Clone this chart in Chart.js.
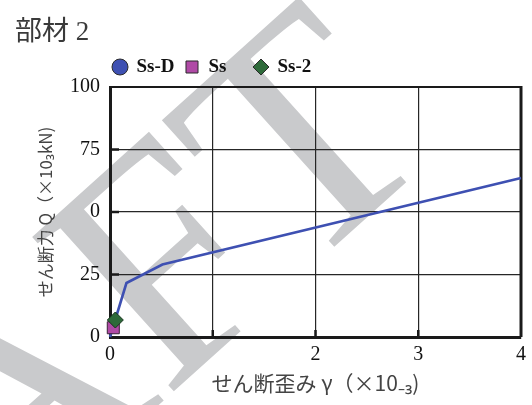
<!DOCTYPE html>
<html>
<head>
<meta charset="utf-8">
<script src="https://cdn.jsdelivr.net/npm/chart.js@4/dist/chart.umd.min.js"></script>
<style>
  html, body { margin: 0; padding: 0; background: #ffffff; }
  #wrap { width: 532px; height: 405px; }
</style>
</head>
<body>
<div id="wrap"><canvas id="c" width="532" height="405"></canvas></div>
<script>
// 部材 2 : せん断力 Q と せん断歪み γ の関係

// series names (legend order)
const seriesNames = ['Ss-D', 'Ss', 'Ss-2'];

// Ss-D skeleton curve (γ ×10^-3, Q ×10^3 kN)
const ssD_gamma = [0, 0.16, 0.51, 4.0];
const ssD_Q     = [0, 21.6, 29.0, 63.6];

// Ss response point
const ss_gamma = [0.032];
const ss_Q     = [3.7];

// Ss-2 response point
const ss2_gamma = [0.052];
const ss2_Q     = [6.8];

// axis ticks and the labels printed next to them
const xTicks    = [0, 1, 2, 3, 4];
const xTickText = ['0', '', '2', '3', '4'];
const yTicks    = [0, 25, 50, 75, 100];
const yTickText = ['0', '25', '0', '75', '100'];

const titleText  = '部材 2';
const xTitleText = 'せん断歪み γ（×10₋₃)';
const yTitleText = 'せん断力 Q（×10₃kN)';

const toPoints = (xs, ys) => xs.map((x, i) => ({ x: x, y: ys[i] }));

const BLUE = '#3e50b2';
const MAGENTA = '#b04aa6';
const GREEN = '#2e6a3a';
const SERIF = '"Liberation Serif", "Times New Roman", serif';
const MIXED = '"Liberation Serif", "Noto Sans CJK JP"';
const GOTHIC = '"Noto Sans CJK JP", "Noto Sans", sans-serif';

// large light-grey "DRAFT" stamp behind the chart
const draftStamp = {
  id: 'draftStamp',
  beforeDraw(chart) {
    const ctx = chart.ctx;
    ctx.save();
    ctx.translate(443, 149);
    ctx.rotate(-42 * Math.PI / 180);
    ctx.font = '320px ' + SERIF;
    ctx.fillStyle = '#c9cacc';
    ctx.textAlign = 'right';
    ctx.textBaseline = 'alphabetic';
    ctx.fillText('DRAFT', 0, 0);
    ctx.restore();
  }
};

// top / right frame and the short inward tick marks
const frameTicks = {
  id: 'frameTicks',
  beforeDatasetsDraw(chart) {
    const { ctx, chartArea: a, scales } = chart;
    ctx.save();
    ctx.strokeStyle = '#1a1a1a';
    ctx.lineWidth = 2;
    ctx.beginPath();
    ctx.moveTo(a.left, a.top); ctx.lineTo(a.right, a.top);
    ctx.stroke();
    ctx.lineWidth = 3;
    ctx.beginPath();
    ctx.moveTo(a.right, a.top - 1); ctx.lineTo(a.right, a.bottom);
    ctx.stroke();
    ctx.lineWidth = 2.5;
    yTicks.slice(1, -1).forEach(v => {
      const py = scales.y.getPixelForValue(v);
      ctx.beginPath(); ctx.moveTo(a.left, py); ctx.lineTo(a.left + 9, py); ctx.stroke();
    });
    xTicks.slice(1, -1).forEach(v => {
      const px = scales.x.getPixelForValue(v);
      ctx.beginPath(); ctx.moveTo(px, a.bottom); ctx.lineTo(px, a.bottom - 7); ctx.stroke();
    });
    ctx.restore();
  }
};

// legend row above the plot
const legendRow = {
  centers: [120, 192, 261],
  y: 67,
  radii: [8, 8.5, 8],
  gap: 16.5
};
const markerLegend = {
  id: 'markerLegend',
  afterDraw(chart) {
    const ctx = chart.ctx;
    ctx.save();
    chart.data.datasets.forEach((ds, i) => {
      const cx = legendRow.centers[i];
      ctx.fillStyle = ds.pointBackgroundColor;
      ctx.strokeStyle = '#2a2a2a';
      ctx.lineWidth = 1;
      Chart.helpers.drawPoint(ctx, {
        pointStyle: ds.pointStyle, radius: legendRow.radii[i], rotation: 0, borderWidth: 1
      }, cx, legendRow.y);
      ctx.fillStyle = '#111111';
      ctx.font = '600 19px ' + SERIF;
      ctx.textAlign = 'left';
      ctx.textBaseline = 'middle';
      ctx.fillText(ds.label, cx + legendRow.gap, legendRow.y + 0.5);
    });
    ctx.restore();
  }
};

new Chart(document.getElementById('c'), {
  type: 'scatter',
  data: {
    datasets: [
      {
        label: seriesNames[0],
        data: toPoints(ssD_gamma, ssD_Q),
        showLine: true,
        borderColor: BLUE,
        borderWidth: 2.6,
        backgroundColor: BLUE,
        pointBackgroundColor: BLUE,
        pointStyle: 'circle',
        pointRadius: 0,
        tension: 0,
        order: 3,
        clip: false
      },
      {
        label: seriesNames[1],
        data: toPoints(ss_gamma, ss_Q),
        showLine: false,
        pointStyle: 'rect',
        pointRadius: 8.5,
        pointBackgroundColor: MAGENTA,
        backgroundColor: MAGENTA,
        pointBorderColor: '#3a2238',
        pointBorderWidth: 1,
        order: 2,
        clip: false
      },
      {
        label: seriesNames[2],
        data: toPoints(ss2_gamma, ss2_Q),
        showLine: false,
        pointStyle: 'rectRot',
        pointRadius: 8,
        pointBackgroundColor: GREEN,
        backgroundColor: GREEN,
        pointBorderColor: '#17331d',
        pointBorderWidth: 1,
        order: 1,
        clip: false
      }
    ]
  },
  options: {
    responsive: false,
    animation: false,
    devicePixelRatio: 1,
    layout: { padding: { left: 15, right: 11, top: 0, bottom: 0 } },
    plugins: {
      legend: { display: false },
      tooltip: { enabled: false },
      title: {
        display: true,
        text: titleText,
        align: 'start',
        color: '#3a3a3a',
        font: { family: MIXED, size: 27, weight: 'normal' },
        padding: { top: 17, bottom: 37.6 }
      }
    },
    scales: {
      x: {
        type: 'linear',
        min: 0,
        max: 4,
        afterBuildTicks: s => { s.ticks = xTicks.map(v => ({ value: v })); },
        afterFit: s => { s.height = 68; },
        grid: { color: '#262626', lineWidth: 1.2, drawTicks: false },
        border: { color: '#1a1a1a', width: 3 },
        ticks: {
          padding: 6,
          color: '#111111',
          autoSkip: false,
          maxRotation: 0,
          font: { family: SERIF, size: 20 },
          callback: (v, i) => xTickText[i]
        },
        title: {
          display: true,
          text: xTitleText,
          color: '#444444',
          font: { family: GOTHIC, size: 21 },
          padding: { top: 0, bottom: 9.4 }
        }
      },
      y: {
        type: 'linear',
        min: 0,
        max: 100,
        afterBuildTicks: s => { s.ticks = yTicks.map(v => ({ value: v })); },
        afterFit: s => { s.width = 95; },
        grid: { color: '#262626', lineWidth: 1.2, drawTicks: false },
        border: { color: '#1a1a1a', width: 3 },
        ticks: {
          padding: 10,
          color: '#111111',
          autoSkip: false,
          font: { family: SERIF, size: 20 },
          callback: (v, i) => yTickText[i]
        },
        title: {
          display: true,
          text: yTitleText,
          color: '#444444',
          font: { family: GOTHIC, size: 17 },
          padding: { top: 20.8, bottom: 0 }
        }
      }
    }
  },
  plugins: [draftStamp, frameTicks, markerLegend]
});
</script>
</body>
</html>
